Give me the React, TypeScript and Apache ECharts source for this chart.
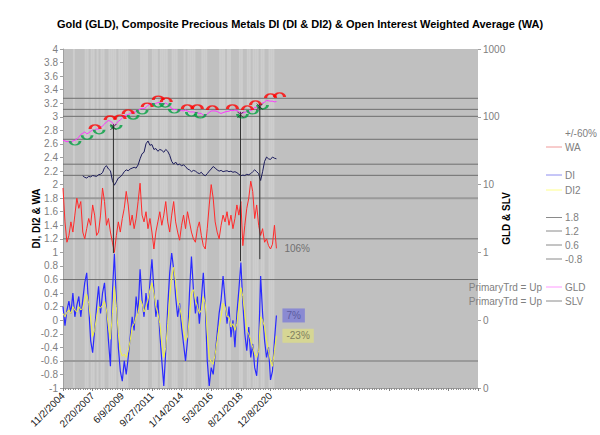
import React, { useEffect, useRef } from 'react';
import * as echarts from 'echarts';

const TITLE = 'Gold (GLD), Composite Precious Metals DI (DI & DI2) & Open Interest Weighted Average (WA)';
const START_UTC = Date.UTC(2004, 10, 2);
const STEP_DAYS = 56;
const X_MAX = 11760;
const X_INTERVAL = 840;
const LAST_LABEL_DAY = 5880;
const FONT = 'Liberation Sans, Arial, sans-serif';

// GLD price (right log axis)
const gld = [
  45, 44, 43, 43, 42, 44, 45, 47, 50, 55,
  57, 60, 56, 58, 61, 64, 63, 66, 66, 70,
  73, 78, 84, 88, 86, 82, 74, 80, 86, 90,
  96, 104, 106, 108, 112, 116, 116, 120, 124, 130,
  134, 132, 138, 148, 156, 158, 152, 158, 162, 162,
  158, 154, 160, 152, 145, 132, 128, 128, 125, 122,
  124, 122, 126, 122, 118, 118, 118, 116, 115, 112,
  112, 106, 104, 110, 116, 122, 122, 122, 120, 115,
  112, 115, 118, 120, 121, 125, 123, 126, 124, 118,
  114, 114, 116, 120, 120, 124, 128, 138, 138, 142,
  150, 160, 164, 175, 172, 170, 170, 166, 168,
];

// SLV price (right log axis), starts at sample SLV_START
const SLV_START = 10;
const slv = [
  13.5, 12.8, 12.5, 13.2, 13.0, 13.6, 13.4, 13.2, 14.0, 14.2,
  15.0, 17.8, 19.0, 17.0, 16.0, 11.5, 9.8, 11.0, 12.5, 13.0,
  14.0, 15.5, 16.5, 16.0, 17.0, 17.5, 18.0, 17.5, 19.5, 24.0,
  28.5, 30.0, 40.0, 44.0, 38.0, 39.0, 33.0, 34.0, 31.0, 33.0,
  32.0, 30.0, 33.0, 31.0, 27.0, 22.0, 20.0, 21.5, 19.5, 20.0,
  19.0, 19.5, 18.5, 17.0, 16.5, 15.5, 16.2, 15.8, 15.0, 14.5,
  15.2, 14.0, 13.5, 14.5, 15.8, 17.0, 18.5, 17.5, 16.5, 15.8,
  16.2, 15.5, 15.8, 16.0, 15.5, 15.8, 15.2, 15.5, 15.0, 14.2,
  13.5, 13.8, 13.6, 14.2, 14.0, 14.5, 15.5, 16.5, 15.5, 14.5,
  11.5, 15.5, 22.0, 25.5, 24.0, 23.5, 25.5, 24.5, 24.0,
];

// Open interest weighted average (left axis)
const wa = [
  1.95, 1.45, 1.15, 1.25, 1.45, 1.30, 1.55, 1.80, 1.65, 1.75,
  1.30, 1.20, 1.35, 1.50, 1.40, 1.70, 1.55, 1.25, 1.30, 1.55,
  1.95, 1.75, 1.40, 1.50, 1.30, 1.15, 1.00, 1.25, 1.45, 1.30,
  1.50, 1.65, 1.90, 1.70, 1.40, 1.55, 1.35, 1.50, 1.75, 2.02,
  1.55, 1.45, 1.60, 1.35, 1.50, 1.30, 1.05, 1.30, 1.45, 1.60,
  1.40, 1.55, 1.75, 1.45, 1.30, 1.55, 1.75, 1.45, 1.30, 1.18,
  1.40, 1.55, 1.35, 1.60, 1.45, 1.30, 1.20, 1.15, 1.35, 1.45,
  1.25, 1.10, 1.05, 1.35, 1.70, 2.00, 1.80, 1.45, 1.30, 1.20,
  1.40, 1.55, 1.45, 1.60, 1.40, 1.55, 1.35, 1.50, 1.70, 1.55,
  1.75, 1.10, 1.40, 1.65, 1.80, 2.05, 1.90, 1.50, 1.70, 1.40,
  1.25, 1.35, 1.15, 1.20, 1.10, 1.05, 1.12, 1.40, 1.06,
];

// DI (left axis)
const di = [
  0.20, -0.08, 0.15, 0.28, 0.10, 0.40, 0.05, 0.22, 0.35, 0.05,
  0.30, 0.55, 0.70, 0.20, -0.30, -0.48, -0.15, 0.20, 0.50, 0.10,
  0.40, 0.55, 0.15, -0.30, -0.68, 0.40, 0.98, 0.30, -0.40, -0.75,
  -0.90, -0.60, -0.80, -0.55, -0.25, 0.05, -0.15, 0.35, 0.10, 0.75,
  0.30, 0.05, 0.40, 0.15, 0.55, 0.90, 0.45, 0.05, 0.30, -0.20,
  -0.60, -0.97, -0.45, 0.20, 0.70, 0.99, 0.75, 0.35, 0.05, 0.25,
  -0.10, -0.35, -0.60, -0.30, 0.40, 0.94, 0.45, 0.10, 0.35, -0.05,
  0.30, 0.70, 0.20, -0.60, -0.97, -0.70, -0.80, -0.50, -0.20, 0.10,
  0.30, 0.65, 0.30, -0.05, 0.20, -0.25, 0.00, -0.40, 0.10, 0.45,
  0.85, 0.25, -0.20, -0.45, -0.10, -0.55, -0.35, -0.70, -0.82, -0.40,
  0.65, 0.10, -0.30, -0.55, -0.40, -0.88, -0.75, -0.30, 0.07,
];

// DI2 (left axis)
const di2 = [
  0.10, 0.05, 0.12, 0.15, 0.10, 0.20, 0.15, 0.12, 0.20, 0.15,
  0.18, 0.30, 0.38, 0.25, 0.02, -0.24, -0.15, 0.05, 0.20, 0.18,
  0.22, 0.28, 0.15, -0.10, -0.28, 0.10, 0.50, 0.20, -0.20, -0.45,
  -0.53, -0.50, -0.55, -0.45, -0.30, -0.10, -0.05, 0.05, 0.10, 0.30,
  0.25, 0.12, 0.20, 0.30, 0.45, 0.55, 0.40, 0.20, 0.10, -0.05,
  -0.35, -0.55, -0.40, -0.05, 0.35, 0.65, 0.78, 0.55, 0.30, 0.20,
  0.05, -0.15, -0.30, -0.25, 0.05, 0.40, 0.45, 0.30, 0.20, 0.10,
  0.15, 0.35, 0.25, -0.20, -0.55, -0.62, -0.65, -0.50, -0.30, -0.10,
  0.05, 0.25, 0.20, 0.05, 0.05, -0.10, -0.05, -0.15, -0.05, 0.20,
  0.48, 0.35, 0.10, -0.15, -0.20, -0.30, -0.40, -0.50, -0.55, -0.45,
  0.05, 0.00, -0.10, -0.30, -0.45, -0.60, -0.68, -0.45, -0.23,
];

// Background band state per sample (1 = lighter band)
const shade = [
  0, 0, 0, 0, 0, 1, 0, 0, 0, 0,
  0, 1, 1, 0, 1, 1, 0, 1, 0, 1,
  1, 0, 0, 1, 1, 1, 1, 0, 1, 1,
  1, 1, 1, 0, 0, 0, 0, 0, 0, 1,
  1, 1, 1, 0, 0, 1, 1, 1, 0, 1,
  1, 1, 1, 0, 0, 1, 1, 1, 0, 0,
  0, 1, 0, 1, 1, 1, 1, 0, 0, 0,
  1, 1, 1, 0, 0, 0, 0, 0, 0, 1,
  1, 1, 0, 1, 1, 0, 0, 0, 0, 1,
  1, 0, 0, 1, 1, 0, 1, 1, 1, 0,
  1, 1, 0, 0, 1, 1, 1, 0, 0,
];

const leftLevels = [1.8, 1.2, 0.6, -0.6];
const gldLevels = [187.5, 128.8, 101.6, 46.6, 20, 13.7];

const redArcDays = [909, 1335, 1619, 1847, 2386, 2699, 2926, 3523, 3807, 4233, 4801, 5227, 5455, 5881, 6137];
const redArcGld = [71, 96, 99, 118, 149, 189, 177, 140, 140, 135, 140, 135, 160, 203, 210];
const greenArcDays = [341, 682, 1023, 1506, 1989, 2244, 2699, 2898, 3154, 3636, 3892, 5085, 5370, 5654];
const greenArcGld = [41, 50, 60, 71, 99, 118, 149, 149, 122, 110, 103, 103, 118, 140];

const signalDays = [1429, 5029, 5577];
const signalTop = [2.85, 3.03, 3.15];
const signalBottom = [0.99, 0.87, 0.9];

const legendItems = ['WA', 'DI', 'DI2', '1.8', '1.2', '0.6', '-0.8', 'GLD', 'SLV'];

function fmtDate(v: number): string {
  const d = new Date(START_UTC + v * 86400000);
  return `${d.getUTCMonth() + 1}/${d.getUTCDate()}/${d.getUTCFullYear()}`;
}

const pct = (p: any) => `${Math.round(p.value[1] * 100)}%`;

export default function App() {
  const ref = useRef<HTMLDivElement>(null);
  useEffect(() => {
    document.body.style.margin = '0';
    const chart = echarts.init(ref.current!, null, { renderer: 'svg' });

    const bandData = shade
      .map((s, i) => (s ? [i * STEP_DAYS, s] : null))
      .filter((d) => d !== null);

    const levelSeries: any[] = leftLevels.map((lv, k) => ({
      type: 'line',
      yAxisIndex: 0,
      data: [[0, lv], [X_MAX, lv]],
      symbol: 'none',
      silent: true,
      lineStyle: {
        color: k === 0 || k === 3 ? '#9A9A9A' : '#6E6E6E',
        width: k === 0 || k === 3 ? 2 : 1,
      },
      z: 1,
    }));
    const gldLevelSeries: any[] = gldLevels.map((lv) => ({
      type: 'line',
      yAxisIndex: 1,
      data: [[0, lv], [X_MAX, lv]],
      symbol: 'none',
      silent: true,
      lineStyle: { color: '#6E6E6E', width: 1 },
      z: 1,
    }));
    const signalSeries: any[] = signalDays.map((d, k) => ({
      type: 'line',
      yAxisIndex: 0,
      data: [[d, signalTop[k]], [d, signalBottom[k]]],
      symbol: 'none',
      silent: true,
      lineStyle: { color: '#303030', width: 1 },
      z: 4,
    }));

    const legendRows = [
      { y: 147, color: '#F09A9A' },
      { y: 175, color: '#8E8EF0' },
      { y: 190, color: '#FFFF8A' },
      { y: 217.5, color: '#8A8A8A' },
      { y: 231, color: '#8A8A8A' },
      { y: 245, color: '#8A8A8A' },
      { y: 259, color: '#8A8A8A' },
      { y: 287, color: '#FF9AFF' },
      { y: 301, color: '#8A8A8A' },
    ];
    const graphics: any[] = [];
    graphics.push({
      type: 'text', x: 565, y: 133,
      style: { text: '+/-60%', fill: '#808080', font: `10px ${FONT}`, verticalAlign: 'middle' },
    });
    legendItems.forEach((name, k) => {
      const r = legendRows[k];
      graphics.push({
        type: 'line',
        shape: { x1: 546, y1: r.y, x2: 562, y2: r.y },
        style: { stroke: r.color, lineWidth: 1 },
      });
      graphics.push({
        type: 'text', x: 565, y: r.y,
        style: { text: name, fill: '#808080', font: `10px ${FONT}`, verticalAlign: 'middle' },
      });
    });
    [287, 301].forEach((y) => {
      graphics.push({
        type: 'text', x: 542, y,
        style: { text: 'PrimaryTrd = Up', fill: '#808080', font: `10px ${FONT}`, align: 'right', verticalAlign: 'middle' },
      });
    });

    const option: any = {
      animation: false,
      backgroundColor: '#FFFFFF',
      textStyle: { fontFamily: FONT },
      title: {
        text: TITLE,
        left: 'center',
        top: 13,
        textStyle: { fontSize: 11, fontWeight: 'bold', color: '#000', fontFamily: FONT },
      },
      grid: {
        left: 63, right: 122, top: 49, bottom: 47,
        show: true, backgroundColor: '#C0C0C0', borderWidth: 0,
      },
      xAxis: {
        type: 'value', min: 0, max: X_MAX, interval: X_INTERVAL,
        axisLine: { show: true, onZero: false, lineStyle: { color: '#9A9A9A' } },
        axisTick: { show: true, length: 3, lineStyle: { color: '#808080' } },
        minorTick: { show: true, splitNumber: 12, length: 2, lineStyle: { color: '#909090' } },
        splitLine: { show: false },
        axisLabel: {
          rotate: 45, fontSize: 10, color: '#202020', margin: 6, fontFamily: FONT,
          formatter: (v: number) => (v <= LAST_LABEL_DAY ? fmtDate(v) : ''),
        },
      },
      yAxis: [
        {
          type: 'value', min: -1, max: 4, interval: 0.2, position: 'left',
          name: 'DI, DI2 & WA', nameLocation: 'middle', nameGap: 22, nameRotate: 90,
          nameMoveOverlap: false,
          nameTextStyle: { fontWeight: 'bold', fontSize: 10, color: '#000', fontFamily: FONT },
          axisLine: { show: true, lineStyle: { color: '#A0A0A0' } },
          axisTick: { show: true, length: 3, lineStyle: { color: '#A0A0A0' } },
          axisLabel: {
            fontSize: 10, color: '#808080', margin: 5, fontFamily: FONT,
            formatter: (v: number) => String(Math.round(v * 10) / 10),
          },
          splitLine: { show: false },
        },
        {
          type: 'log', logBase: 10, min: 0.01, max: 1000, position: 'right',
          name: 'GLD & SLV', nameLocation: 'middle', nameGap: 23, nameRotate: 90,
          nameMoveOverlap: false,
          nameTextStyle: { fontWeight: 'bold', fontSize: 10, color: '#000', fontFamily: FONT },
          axisLine: { show: false },
          axisTick: { show: true, length: 3, lineStyle: { color: '#A0A0A0' } },
          axisLabel: {
            fontSize: 10, color: '#808080', margin: 5, fontFamily: FONT,
            formatter: (v: number) => (v >= 1 ? String(Math.round(v)) : '0'),
          },
          splitLine: { show: false },
        },
      ],
      graphic: graphics,
      series: [
        {
          type: 'custom',
          yAxisIndex: 0,
          silent: true,
          z: 0,
          data: bandData,
          encode: { x: 0, y: 1 },
          renderItem: (_params: any, api: any) => {
            const x0 = api.value(0);
            const a = api.coord([x0, 4]);
            const b = api.coord([x0 + STEP_DAYS, -1]);
            return {
              type: 'rect',
              shape: { x: a[0], y: a[1], width: b[0] - a[0], height: b[1] - a[1] },
              style: { fill: '#CDCDCD' },
            };
          },
        },
        ...levelSeries,
        ...gldLevelSeries,
        {
          type: 'line', name: 'WA', yAxisIndex: 0,
          data: wa.map((v, i) => [i * STEP_DAYS, v]),
          symbol: 'none', lineStyle: { color: '#FF2A2A', width: 1 }, z: 3,
          endLabel: { show: true, formatter: pct, color: '#707070', fontSize: 10, distance: 8, fontFamily: FONT },
        },
        {
          type: 'line', name: 'DI', yAxisIndex: 0,
          data: di.map((v, i) => [i * STEP_DAYS, v]),
          symbol: 'none', lineStyle: { color: '#2A2AFF', width: 1.2 }, z: 3,
          endLabel: {
            show: true, formatter: pct, color: '#5A5AA0', fontSize: 10, distance: 6, fontFamily: FONT,
            backgroundColor: '#8A8AD2', padding: [2, 4],
          },
        },
        {
          type: 'line', name: 'DI2', yAxisIndex: 0,
          data: di2.map((v, i) => [i * STEP_DAYS, v]),
          symbol: 'none', lineStyle: { color: '#F0F040', width: 1 }, z: 3,
          endLabel: {
            show: true, formatter: pct, color: '#808060', fontSize: 10, distance: 6, fontFamily: FONT,
            backgroundColor: '#D6D694', padding: [2, 4],
          },
        },
        {
          type: 'line', name: 'GLD', yAxisIndex: 1,
          data: gld.map((v, i) => [i * STEP_DAYS, v]),
          symbol: 'none', lineStyle: { color: '#FF33FF', width: 1 }, z: 3,
        },
        {
          type: 'line', name: 'SLV', yAxisIndex: 1,
          data: slv.map((v, i) => [(i + SLV_START) * STEP_DAYS, v]),
          symbol: 'none', lineStyle: { color: '#1C1C5C', width: 1 }, z: 3,
        },
        ...signalSeries,
        {
          type: 'scatter', yAxisIndex: 1, silent: true, z: 5,
          data: redArcDays.map((d, k) => [d, redArcGld[k]]),
          symbol: 'path://M0,10 C0,-3.3 20,-3.3 20,10',
          symbolSize: [10, 4],
          itemStyle: { color: 'rgba(0,0,0,0)', borderColor: '#FF0000', borderWidth: 2 },
        },
        {
          type: 'scatter', yAxisIndex: 1, silent: true, z: 5,
          data: greenArcDays.map((d, k) => [d, greenArcGld[k]]),
          symbol: 'path://M0,0 C0,13.3 20,13.3 20,0',
          symbolSize: [10, 4],
          itemStyle: { color: 'rgba(0,0,0,0)', borderColor: '#00A040', borderWidth: 1.8 },
        },
        {
          type: 'scatter', yAxisIndex: 0, silent: true, z: 6,
          data: signalDays.map((d, k) => [d, signalTop[k]]),
          symbol: 'path://M0,0 L10,10 M10,0 L0,10 M5,0 L5,10',
          symbolSize: 6,
          itemStyle: { color: 'rgba(0,0,0,0)', borderColor: '#202020', borderWidth: 1 },
        },
      ],
    };
    chart.setOption(option);
    return () => chart.dispose();
  }, []);

  return (
    <div
      ref={ref}
      style={{ position: 'absolute', left: 0, top: 0, width: 600, height: 435 }}
    />
  );
}
